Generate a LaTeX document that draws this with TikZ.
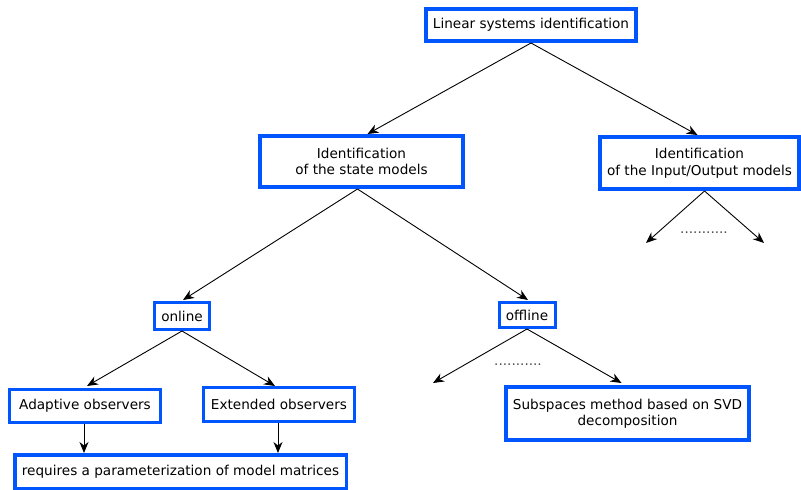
\documentclass[tikz,border=0pt]{standalone}
\usepackage{fontspec}
\setmainfont{DejaVu Sans}
\usetikzlibrary{arrows.meta,calc}
\definecolor{boxblue}{RGB}{0,85,255}
\begin{document}
\begin{tikzpicture}[x=1pt,y=-1pt,
  every node/.style={font=\fontsize{13.6}{16.5}\selectfont, inner sep=0pt, align=center},
  bigbox/.style={draw=boxblue, line width=4pt, fill=white},
  smallbox/.style={draw=boxblue, line width=3pt, fill=white},
  conn/.style={line width=0.9pt, -{Stealth[length=11pt,width=9pt,inset=3.5pt]}},
  dotlabel/.style={text=black!70}]
\useasboundingbox (0,0) rectangle (801,490);
\node[bigbox, minimum width=210, minimum height=32] (top) at (531,25) {Linear systems identification};
\node[bigbox, minimum width=203, minimum height=51] (state) at (361.5,161.5) {Identification\\of the state models};
\node[bigbox, minimum width=199, minimum height=52] (io) at (699.5,163) {Identification\\of the Input/Output models};
\node[smallbox, minimum width=55, minimum height=27] (online) at (182,316) {online};
\node[smallbox, minimum width=56, minimum height=25] (offline) at (527,315) {offline};
\node[smallbox, minimum width=151, minimum height=33] (adaptive) at (85,406) {Adaptive observers};
\node[smallbox, minimum width=151, minimum height=34] (extended) at (279,404.5) {Extended observers};
\node[bigbox, line width=3.5pt, minimum width=331.5, minimum height=33.5] (requires) at (180.5,471.5) {requires a parameterization of model matrices};
\node[bigbox, minimum width=243, minimum height=53] (subspaces) at (627.5,413.5) {Subspaces method based on SVD\\decomposition};
\node[dotlabel] (dots1) at (704,233) {...........};
\node[dotlabel] (dots2) at (518,365) {...........};
\coordinate (ioL) at (646,243);
\coordinate (ioR) at (764,243);
\coordinate (offL) at (433,383);
\coordinate (adS) at ($(adaptive.south)+(-1,0)$);
\coordinate (exS) at ($(extended.south)+(-1,0)$);
% connectors
\draw[conn] (top.south) -- ($(state.north)+(6,0)$);
\draw[conn] (top.south) -- ($(io.north)+(-2,0)$);
\draw[conn] ($(state.south)+(-4,0)$) -- ($(online.north)+(1,-1)$);
\draw[conn] ($(state.south)+(-4,0)$) -- ($(offline.north)+(1,-1)$);
\draw[conn] ($(io.south)+(5,0)$) -- (ioL);
\draw[conn] ($(io.south)+(5,0)$) -- (ioR);
\draw[conn] (online.south) -- ($(adaptive.north)+(2,-2)$);
\draw[conn] (online.south) -- ($(extended.north)+(-4,0)$);
\draw[conn] (adS) -- (adS |- requires.north);
\draw[conn] (exS) -- (exS |- requires.north);
\draw[conn] (offline.south) -- (offL);
\draw[conn] (offline.south) -- ($(subspaces.north)+(-6,-2)$);
\end{tikzpicture}
\end{document}
